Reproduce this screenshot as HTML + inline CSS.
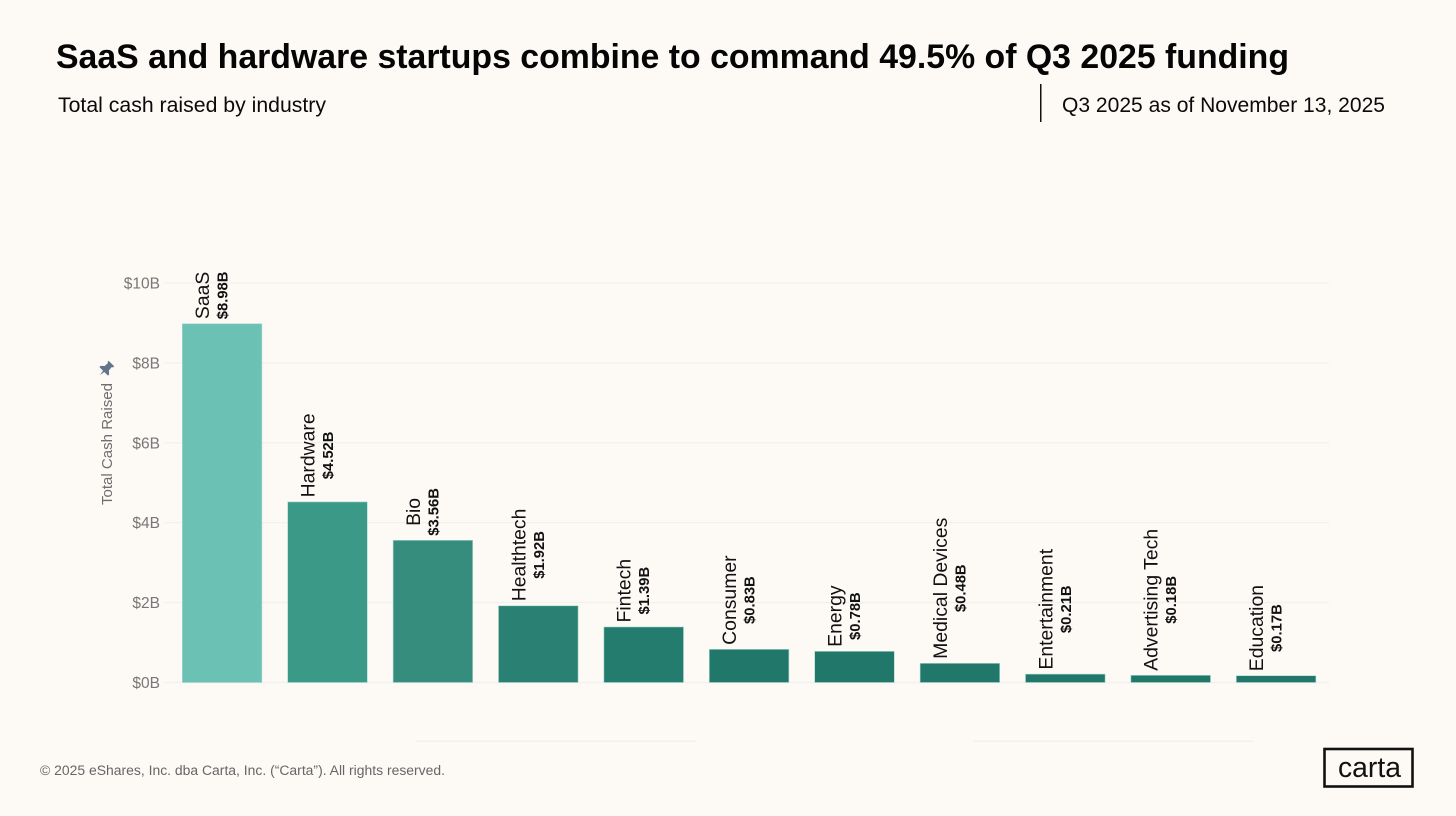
<!DOCTYPE html>
<html lang="en">
<head>
<meta charset="utf-8">
<title>SaaS and hardware startups combine to command 49.5% of Q3 2025 funding</title>
<style>
  html, body { margin: 0; padding: 0; background: #fdfaf6; }
  body { width: 1456px; height: 816px; overflow: hidden; }
  svg { display: block; font-family: "Liberation Sans", sans-serif; }
</style>
</head>
<body>
<svg id="chart" width="1456" height="816" viewBox="0 0 1456 816" xmlns="http://www.w3.org/2000/svg">
  <rect x="0" y="0" width="1456" height="816" fill="#fdfaf6"/>
  <text x="56" y="68" font-size="34" font-weight="700" fill="#050505" textLength="1233" lengthAdjust="spacingAndGlyphs">SaaS and hardware startups combine to command 49.5% of Q3 2025 funding</text>
  <text x="58" y="112" font-size="21" fill="#0a0a0a" textLength="268" lengthAdjust="spacingAndGlyphs">Total cash raised by industry</text>
  <rect x="1040" y="84" width="1.5" height="38" fill="#111"/>
  <text x="1062" y="112" font-size="21" fill="#0a0a0a" textLength="323" lengthAdjust="spacingAndGlyphs">Q3 2025 as of November 13, 2025</text>

  <g id="grid"></g>
  <g id="y-axis"></g>
  <g id="bars"></g>
  <g id="labels"></g>

  <text transform="translate(112,505) rotate(-90)" font-size="14.5" fill="#6e6e6e" textLength="122" lengthAdjust="spacingAndGlyphs">Total Cash Raised</text>
  <path transform="translate(106,369) rotate(45) scale(1.1)" fill="#64748b" d="M-3.5,-7 L3.5,-7 L3.5,-5.5 L2.5,-5 L2.8,-1 L5.5,1.5 L5.5,3 L0.8,3 L0,8 L-0.8,3 L-5.5,3 L-5.5,1.5 L-2.8,-1 L-2.5,-5 L-3.5,-5.5 Z"/>

  <g fill="#f3f1ee">
    <rect x="416" y="740.5" width="280" height="1.5"/>
    <rect x="973" y="740.5" width="281" height="1.5"/>
    <rect x="137.5" y="740" width="1" height="2"/>
    <rect x="1391.5" y="740" width="1" height="2"/>
  </g>

  <text x="40" y="775" font-size="13.5" fill="#666" textLength="405" lengthAdjust="spacingAndGlyphs">© 2025 eShares, Inc. dba Carta, Inc. (“Carta”). All rights reserved.</text>
  <g>
    <rect x="1324.5" y="749" width="88" height="37.5" fill="none" stroke="#111" stroke-width="2.6"/>
    <text x="1338" y="777" font-size="29" fill="#111" textLength="63" lengthAdjust="spacingAndGlyphs">carta</text>
  </g>
</svg>
<script>
const categories = ["SaaS", "Hardware", "Bio", "Healthtech", "Fintech", "Consumer", "Energy", "Medical Devices", "Entertainment", "Advertising Tech", "Education"];
const cashRaised = [8.98, 4.52, 3.56, 1.92, 1.39, 0.83, 0.78, 0.48, 0.21, 0.18, 0.17];
const valueLabels = ["$8.98B", "$4.52B", "$3.56B", "$1.92B", "$1.39B", "$0.83B", "$0.78B", "$0.48B", "$0.21B", "$0.18B", "$0.17B"];
const yTicks = [0, 2, 4, 6, 8, 10];
const yTickLabels = ["$0B", "$2B", "$4B", "$6B", "$8B", "$10B"];
const barPalette = ["#6cc1b5", "#3b9987", "#378d7d", "#2a8173", "#237c6d", "#20776a", "#20776a", "#20776a", "#20776a", "#20776a", "#20776a"];

const NS = "http://www.w3.org/2000/svg";
const baselineY = 682.5, scaleTopY = 283, domainMax = 10;
const plotLeft = 182.3, bandStep = 105.4, barWidth = 79.6;

function yScale(v) { return baselineY - (v / domainMax) * (baselineY - scaleTopY); }
function xScale(i) { return plotLeft + i * bandStep; }

function make(tag, attrs, parent) {
  const el = document.createElementNS(NS, tag);
  for (const k in attrs) el.setAttribute(k, attrs[k]);
  parent.appendChild(el);
  return el;
}

const gridG = document.getElementById("grid");
const axisG = document.getElementById("y-axis");
const barsG = document.getElementById("bars");
const labelsG = document.getElementById("labels");

yTicks.forEach(function (t, i) {
  const y = yScale(t);
  const line = make("line", { x1: 164, x2: 1329, y1: y, y2: y, stroke: "#f3f1ee", "stroke-width": 1.4 }, gridG);
  
  
  const tick = make("text", { x: 160, y: y + 5.5, "text-anchor": "end", "font-size": 15.5, fill: "#777" }, axisG);
  
  
  tick.textContent = yTickLabels[i];
});

categories.forEach(function (name, i) {
  const x = xScale(i);
  const top = yScale(cashRaised[i]);
  const center = x + barWidth / 2;

  const bar = make("rect", { x: x, y: top, width: barWidth, height: baselineY - top, fill: barPalette[i], stroke: "#a9d8cf", "stroke-width": 0.6 }, barsG);
  
  

  const cat = make("text", { "text-anchor": "middle", "font-size": 19.4, fill: "#111" }, labelsG);
  
  
  cat.textContent = name;

  const val = make("text", { "text-anchor": "middle", "font-size": 14.8, "font-weight": 700, fill: "#111" }, labelsG);
  
  
  val.textContent = valueLabels[i];

  // Both lines are centred along the longer of the two, which sits just above the bar.
  const blockLen = Math.max(cat.getComputedTextLength(), val.getComputedTextLength());
  const midY = top - 4.5 - blockLen / 2;
  cat.setAttribute("transform", "translate(" + (center - 13) + "," + midY + ") rotate(-90)");
  val.setAttribute("transform", "translate(" + (center + 5.5) + "," + midY + ") rotate(-90)");
});
</script>
</body>
</html>
